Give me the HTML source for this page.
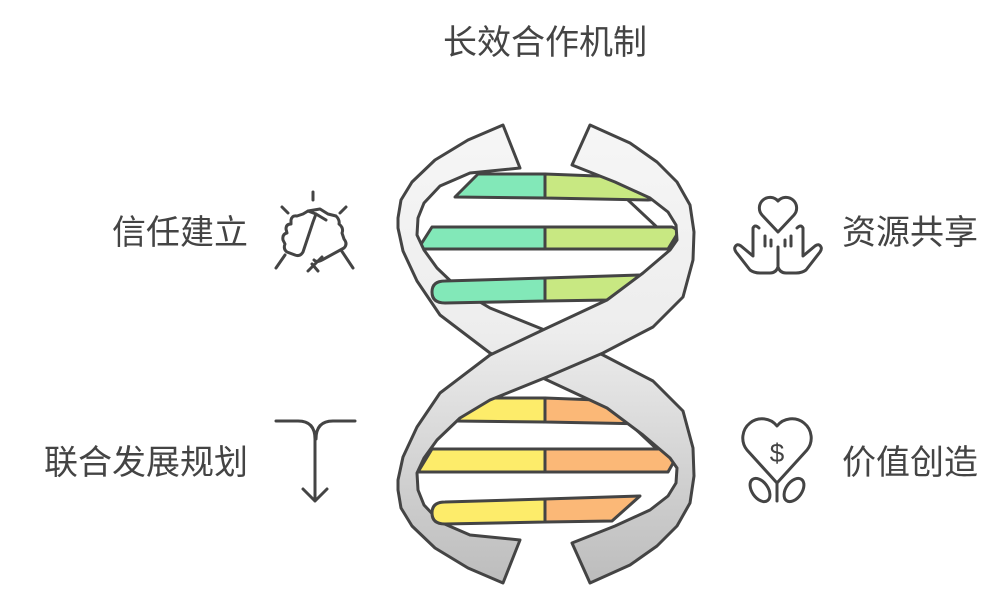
<!DOCTYPE html>
<html><head><meta charset="utf-8"><style>
body{margin:0;background:#fff;}
svg{display:block}
text{font-family:"Liberation Sans","Noto Sans CJK SC",sans-serif;fill:#444;font-size:34px}
</style></head><body>
<svg width="1008" height="606" viewBox="0 0 1008 606" xmlns="http://www.w3.org/2000/svg">
<defs>
<linearGradient id="g" x1="0" y1="125" x2="0" y2="585" gradientUnits="userSpaceOnUse">
<stop offset="0" stop-color="#f6f6f6"/><stop offset="0.45" stop-color="#ededed"/><stop offset="1" stop-color="#bcbcbc"/>
</linearGradient>
</defs>
<text x="545" y="54" text-anchor="middle">长效合作机制</text>
<text x="248" y="244" text-anchor="end">信任建立</text>
<text x="842" y="244">资源共享</text>
<text x="248" y="474" text-anchor="end">联合发展规划</text>
<text x="842" y="474">价值创造</text>

<g fill="none" stroke="#444" stroke-width="3">
<path d="M628,200 L660,230"/>
<path d="M628,422 L660,452"/>
</g>

<!-- rungs (behind strands) -->
<g stroke="#444" stroke-width="3" stroke-linejoin="round">
<path d="M478,174 L545,174 L545,198 L455,197 Z" fill="#82e8b8"/>
<path d="M545,174 L650,178 Q660,179 660,188 Q660,200 648,200 L545,198 Z" fill="#c8e882"/>
<path d="M432,227 L545,227 L545,249 L418,249 Z" fill="#82e8b8"/>
<path d="M545,227 L672,227 Q680,230 676,236 L668,249 L545,249 Z" fill="#c8e882"/>
<path d="M545,278 L640,275 L610,300 L545,301 Z" fill="#c8e882"/>
<path d="M478,398 L545,398 L545,422 L455,421 Z" fill="#fdec6a"/>
<path d="M545,398 L650,402 Q660,403 660,412 Q660,424 648,424 L545,422 Z" fill="#fbb877"/>
<path d="M432,449 L545,449 L545,472 L418,472 Z" fill="#fdec6a"/>
<path d="M545,449 L672,449 Q680,452 676,458 L668,472 L545,472 Z" fill="#fbb877"/>
<path d="M545,499 L640,496 L612,521 L545,522 Z" fill="#fbb877"/>
</g>

<g stroke="#444" stroke-width="3" stroke-linejoin="round" fill="url(#g)">
<path d="M590,583 L630,565 L657,546 L677,526 L690,503 L694,476 L693,448 L683,411 L653,381 L603,355 L547,331 L490,308 L460,290 L437,268 L424,250 L417,235 L418,218 L424,203 L440,186 L470,173 L520,168 L503,125 L468,140 L435,160 L412,182 L401,200 L398,218 L398,228 L403,251 L417,281 L440,315 L490,353 L547,380 L607,408 L643,435 L670,458 L677,468 L676,483 L668,496 L650,510 L615,526 L572,543 Z"/>
<path d="M590,125 L630,143 L657,162 L677,182 L690,205 L694,232 L693,260 L683,297 L653,327 L603,353 L547,377 L490,400 L460,418 L437,440 L424,458 L417,473 L418,490 L424,505 L440,522 L470,535 L520,540 L503,583 L468,568 L435,548 L412,526 L401,508 L398,490 L398,480 L403,457 L417,427 L440,393 L490,355 L547,328 L607,300 L643,273 L670,250 L677,240 L676,225 L668,212 L650,198 L615,182 L572,165 Z"/>
</g>

<g stroke="#444" stroke-width="3" stroke-linejoin="round">
<path d="M445,281 L545,278 L545,301 L445,303 Q432,303 432,292 Q432,281 445,281 Z" fill="#82e8b8"/>
<path d="M445,502 L545,499 L545,522 L445,524 Q432,524 432,513 Q432,502 445,502 Z" fill="#fdec6a"/>
</g>

<g fill="none" stroke="#444" stroke-width="3" stroke-linecap="round" stroke-linejoin="round">
<path d="M313,192 v8 M282,207 l6,6 M346,207 l-6,6"/>
<path d="M285,255 l-9,13 M341,250 l12,18 M322,257 l-14,14 M312,264 l6,7"/>
<path d="M303,214 l5,-3 l8,3 l-3,8 l-10,30 q-3,5 -8,3 l-8,-3 q-4,-3 -2,-8 l-2,-4 q-1,-6 4,-7 l-1,-4 q0,-5 5,-5 l0,-4 q1,-5 6,-4 z"/>
<path d="M308,211 l12,-2 l8,5 l8,2 q4,4 3,8 q5,4 3,9 l2,6 q4,5 0,9 l-22,12 q-5,3 -8,0"/>
<path d="M316,214 l10,6"/>
<path d="M778,232 l-16,-17 a10,10 0 0 1 16,-14 a10,10 0 0 1 16,14 z"/>
<path d="M759,228 q-4,-4 -6,0 v28 l-12,-10 q-4,-3 -6,1 q-1,2 1,5 l14,18 q4,3 10,3 h10 q6,0 8,-6 v-20"/>
<path d="M797,228 q4,-4 6,0 v28 l12,-10 q4,-3 6,1 q1,2 -1,5 l-14,18 q-4,3 -10,3 h-10 q-6,0 -8,-6"/>
<path d="M765,236 v10 M771,240 v6 M785,240 v6 M791,236 v10"/>
<path d="M276,421 h22 q17,0 17,18 v62 M355,421 h-22 q-17,0 -17,18 M303,489 l12,12 l12,-12"/>
<path d="M777,483 l-30,-33 a17,17 0 0 1 30,-24 a17,17 0 0 1 30,24 z"/>
<path d="M777,483 v18"/>
<ellipse cx="760" cy="490" rx="8" ry="13" transform="rotate(-35 760 490)"/>
<ellipse cx="794" cy="490" rx="8" ry="13" transform="rotate(35 794 490)"/>
</g>
<text x="777" y="462" text-anchor="middle" style="font-size:26px">$</text>
</svg>
</body></html>
